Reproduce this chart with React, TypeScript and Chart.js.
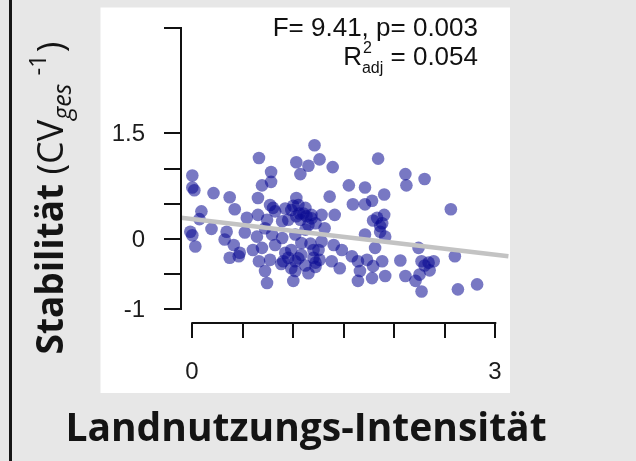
import React, { useEffect, useRef } from "react";
import { Chart, registerables } from "chart.js";

Chart.register(...registerables);

// Land-use intensity (x) and stability (y) for each plot
const landUse = [
  1.21, 0.66, 1.03, 1.15, 1.26, 1.07, 1.39, 1.84, 0.78, 0.69, 0.78, 0.0, 0.0, 0.02, 0.21, 0.37, 0.42, 0.65,
  1.55, 1.71, 1.9, 2.11, 2.12, 2.3, 1.36, 1.59, 1.71, 1.78, 2.56, 1.03, 1.05, 0.8, 0.09, 0.07, -0.02, 0.0,
  0.03, 0.19, 0.34, 0.32, 0.41, 0.52, 0.54, 0.65, 0.64, 0.72, 0.82, 0.89, 0.95, 0.98, 1.1, 1.18, 1.28, 1.41,
  1.15, 1.31, 1.02, 1.08, 0.98, 0.92, 0.79, 0.82, 0.69, 0.6, 0.47, 0.37, 0.46, 0.77, 0.9, 1.02, 1.2, 1.26,
  1.22, 1.15, 1.02, 1.0, 0.72, 0.74, 1.28, 1.4, 1.48, 1.38, 1.46, 1.58, 1.64, 1.66, 1.64, 1.78, 1.79, 1.88,
  1.91, 1.71, 1.81, 1.79, 1.88, 1.9, 1.86, 2.06, 2.11, 2.21, 2.27, 2.24, 2.27, 2.34, 2.39, 2.35, 2.25, 2.6,
  2.63, 2.82, 0.89, 1.07, 1.25, 1.73, 0.92, 1.22, 1.08, 1.2, 0.77, 1.13, 1.03, 1.12, 1.17, 1.91,
  1.0, 1.12, 1.18, 1.06, 0.95, 1.05, 1.12, 0.88, 0.98, 1.83, 1.86, 2.3, 0.74, 0.66, 1.22,
];
const stability = [
  1.33, 1.15, 1.09, 1.04, 1.13, 0.92, 1.02, 1.14, 0.95, 0.76, 0.81, 0.9, 0.73, 0.69, 0.65, 0.59, 0.42, 0.58,
  0.76, 0.73, 0.63, 0.92, 0.76, 0.85, 0.6, 0.49, 0.49, 0.54, 0.42, 0.58, 0.48, 0.44, 0.39, 0.28, 0.1, 0.05,
  -0.11, 0.14, 0.1, -0.01, -0.09, 0.09, 0.3, 0.34, 0.03, 0.15, 0.39, 0.25, 0.27, 0.41, 0.36, 0.34, 0.34, 0.34,
  0.2, 0.15, 0.06, -0.06, -0.16, -0.2, 0.06, -0.09, -0.13, -0.16, -0.2, -0.27, -0.25, -0.3, -0.32, -0.32, -0.27, -0.3,
  -0.34, -0.49, -0.46, -0.6, -0.46, -0.63, -0.04, -0.09, -0.16, -0.32, -0.42, -0.25, -0.32, -0.46, -0.6, -0.56, -0.39, -0.32,
  -0.53, 0.06, -0.13, 0.26, 0.22, 0.34, 0.1, -0.31, -0.53, -0.6, -0.75, -0.13, -0.32, -0.34, -0.32, -0.45, -0.51, -0.25,
  -0.72, -0.65, 0.01, 0.27, -0.16, -0.3, 0.43, 0.22, -0.23, -0.16, 0.48, 0.32, 0.32, 0.13, -0.07, 0.03,
  0.47, 0.44, 0.29, 0.36, -0.27, -0.28, -0.38, -0.36, -0.42, 0.3, 0.18, -0.38, 0.27, -0.32, -0.4,
];

// Regression line end points
const fitX = [-0.11, 3.13];
const fitY = [0.3, -0.25];

// Axis ticks
const yTicks = [-1, -0.5, 0, 0.5, 1, 1.5, 3];
const yTickLabels = ["-1", "", "0", "", "", "1.5", ""];
const xTicks = [0, 0.5, 1, 1.5, 2, 2.5, 3];
const xTickLabels = ["0", "", "", "", "", "", "3"];

// Texts
const statLine = "F= 9.41, p= 0.003";
const r2Value = "0.054";
const xTitle = "Landnutzungs-Intensität";
const yTitleMain = "Stabilität";

const SANS = "'Liberation Sans', Arial, sans-serif";
const TITLE = "'Open Sans', Lato, sans-serif";

const decorPlugin = {
  id: "decor",
  beforeDraw(chart: any) {
    const ctx = chart.ctx;
    ctx.save();
    ctx.fillStyle = "#e7e7e7";
    ctx.fillRect(0, 0, chart.width, chart.height);
    ctx.fillStyle = "#161616";
    ctx.fillRect(9, 0, 3, chart.height);
    ctx.fillStyle = "#ffffff";
    ctx.fillRect(100.5, 7.5, 409.5, 385.5);
    ctx.restore();
  },
  afterDraw(chart: any) {
    const ctx = chart.ctx;
    const xs = chart.scales.x;
    const ys = chart.scales.y;
    const area = chart.chartArea;
    ctx.save();
    ctx.strokeStyle = "#111";
    ctx.fillStyle = "#1c1c1c";
    ctx.lineWidth = 2;
    ctx.lineCap = "butt";

    // y axis
    const ax = Math.round(area.left);
    ctx.beginPath();
    ctx.moveTo(ax, ys.getPixelForValue(yTicks[yTicks.length - 1]) - 1);
    ctx.lineTo(ax, ys.getPixelForValue(yTicks[0]) + 1);
    ctx.stroke();
    ctx.font = `24px ${SANS}`;
    ctx.textAlign = "right";
    ctx.textBaseline = "middle";
    yTicks.forEach((v, i) => {
      const py = Math.round(ys.getPixelForValue(v));
      ctx.beginPath();
      ctx.moveTo(ax - 17, py);
      ctx.lineTo(ax, py);
      ctx.stroke();
      if (yTickLabels[i]) ctx.fillText(yTickLabels[i], ax - 36, py + 1);
    });

    // x axis (detached, below the plot)
    const ay = Math.round(area.bottom + 14);
    ctx.beginPath();
    ctx.moveTo(xs.getPixelForValue(xTicks[0]) - 1, ay);
    ctx.lineTo(xs.getPixelForValue(xTicks[xTicks.length - 1]) + 1, ay);
    ctx.stroke();
    ctx.textAlign = "center";
    xTicks.forEach((v, i) => {
      const px = Math.round(xs.getPixelForValue(v));
      ctx.beginPath();
      ctx.moveTo(px, ay);
      ctx.lineTo(px, ay + 15);
      ctx.stroke();
      if (xTickLabels[i]) ctx.fillText(xTickLabels[i], px, ay + 49);
    });

    // statistics text
    ctx.fillStyle = "#111";
    const big = `26px ${SANS}`;
    const small = `16px ${SANS}`;
    const right = 478;
    ctx.textBaseline = "alphabetic";
    ctx.textAlign = "right";
    ctx.font = big;
    ctx.fillText(statLine, right, 36);
    ctx.textAlign = "left";
    ctx.font = big;
    const wR = ctx.measureText("R").width;
    const wEq = ctx.measureText(" = " + r2Value).width;
    ctx.font = small;
    const w2 = ctx.measureText("2").width;
    const wAdj = ctx.measureText("adj").width;
    const wMid = Math.max(w2, wAdj);
    const x0 = right - (wR + wMid + wEq);
    ctx.font = big;
    ctx.fillText("R", x0, 65);
    ctx.font = small;
    ctx.fillText("2", x0 + wR + 1, 53);
    ctx.fillText("adj", x0 + wR, 73);
    ctx.font = big;
    ctx.fillText(" = " + r2Value, x0 + wR + wMid, 65);

    // x title
    ctx.fillStyle = "#141414";
    ctx.font = `bold 39px ${TITLE}`;
    ctx.textAlign = "center";
    ctx.fillText(xTitle, 306, 441);

    // y title (rotated)
    const segs = [
      { t: yTitleMain, f: `bold 37px ${TITLE}`, dy: 0, gap: 0 },
      { t: " (CV", f: `36px ${TITLE}`, dy: 0, gap: 0 },
      { t: "ges", f: `italic 25px ${TITLE}`, dy: 8, gap: 0 },
      { t: "-1", f: `24px ${TITLE}`, dy: -17, gap: 8 },
      { t: ")", f: `36px ${TITLE}`, dy: 0, gap: 2 },
    ];
    let total = 0;
    segs.forEach((s) => {
      ctx.font = s.f;
      total += ctx.measureText(s.t).width + s.gap;
    });
    ctx.translate(63, 198);
    ctx.rotate(-Math.PI / 2);
    ctx.textAlign = "left";
    let cx = -total / 2;
    segs.forEach((s) => {
      ctx.font = s.f;
      cx += s.gap;
      ctx.fillText(s.t, cx, s.dy);
      cx += ctx.measureText(s.t).width;
    });
    ctx.restore();
  },
};

export default function App() {
  const ref = useRef<HTMLCanvasElement | null>(null);
  useEffect(() => {
    if (!ref.current) return;
    const pts = landUse.map((x, i) => ({ x, y: stability[i] }));
    const fit = fitX.map((x, i) => ({ x, y: fitY[i] }));
    const chart = new Chart(ref.current, {
      type: "scatter",
      data: {
        datasets: [
          {
            type: "line",
            data: fit,
            borderColor: "#c3c3c3",
            borderWidth: 4.5,
            pointRadius: 0,
            showLine: true,
            fill: false,
            clip: false,
            order: 0,
          } as any,
          {
            data: pts,
            backgroundColor: "rgba(10, 10, 145, 0.55)",
            borderWidth: 0,
            pointRadius: 6.3,
            pointHoverRadius: 6.3,
            clip: false,
            order: 1,
          },
        ],
      },
      options: {
        responsive: false,
        animation: false,
        events: [],
        layout: { padding: { left: 181, right: 128, top: 28, bottom: 152 } },
        plugins: { legend: { display: false }, tooltip: { enabled: false } },
        scales: {
          x: { type: "linear", display: false, min: -0.112, max: 3.126 },
          y: { type: "linear", display: false, min: -1, max: 3 },
        },
      },
      plugins: [decorPlugin],
    });
    return () => chart.destroy();
  }, []);
  return (
    <div style={{ position: "absolute", left: 0, top: 0, width: 636, height: 461 }}>
      <canvas ref={ref} width={636} height={461} style={{ display: "block", width: 636, height: 461 }} />
    </div>
  );
}
